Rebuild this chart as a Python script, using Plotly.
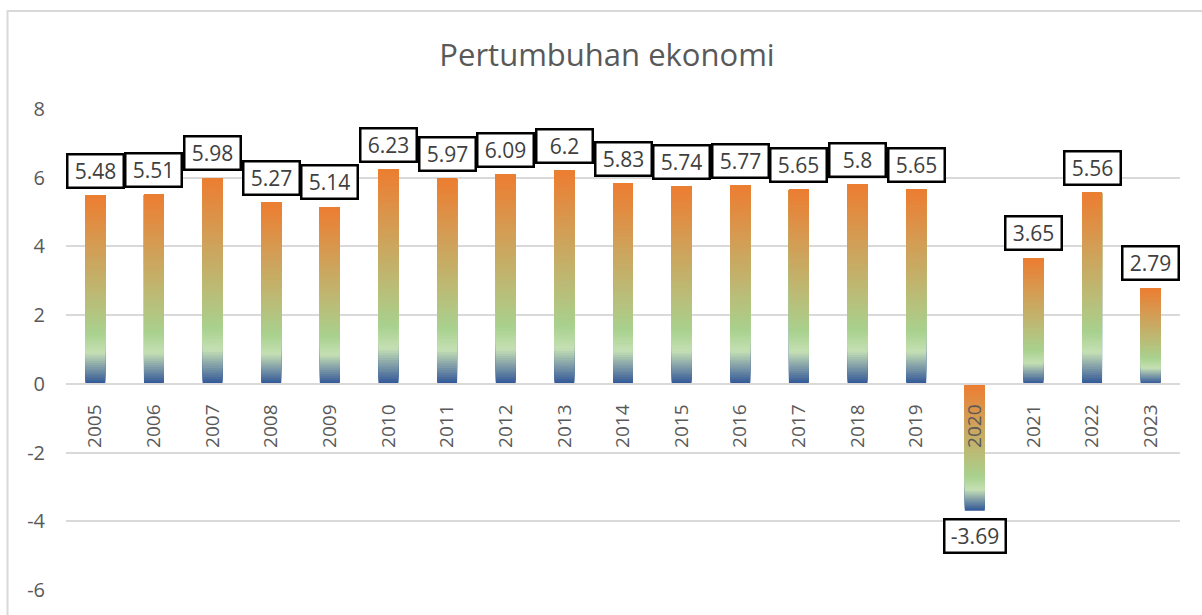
import plotly.graph_objects as go

years = [str(y) for y in range(2005, 2024)]
growth = [5.48, 5.51, 5.98, 5.27, 5.14, 6.23, 5.97, 6.09, 6.2, 5.83,
          5.74, 5.77, 5.65, 5.8, 5.65, -3.69, 3.65, 5.56, 2.79]
labels = ["5.48", "5.51", "5.98", "5.27", "5.14", "6.23", "5.97", "6.09", "6.2", "5.83",
          "5.74", "5.77", "5.65", "5.8", "5.65", "-3.69", "3.65", "5.56", "2.79"]
ytick_vals = [-6, -4, -2, 0, 2, 4, 6, 8]
ytick_text = ["-6", "-4", "-2", "0", "2", "4", "6", "8"]
title_text = "Pertumbuhan ekonomi"

# gradient stops (fraction from visual bottom of each bar -> colour)
stops = [(0.0, (47, 85, 151)), (0.10, (140, 168, 170)), (0.165, (197, 224, 180)),
         (0.27, (169, 209, 142)), (1.0, (237, 125, 49))]


def grad(f):
    for (f0, c0), (f1, c1) in zip(stops[:-1], stops[1:]):
        if f <= f1:
            t = (f - f0) / (f1 - f0) if f1 > f0 else 0
            c = [round(a + (b - a) * t) for a, b in zip(c0, c1)]
            return "rgb(%d,%d,%d)" % tuple(c)
    return "rgb(%d,%d,%d)" % stops[-1][1]


N = 90
fig = go.Figure()
bottoms = [min(0, v) for v in growth]
heights = [abs(v) for v in growth]
for k in range(N):
    fr = (k + 0.5) / N
    fig.add_trace(go.Bar(
        x=years,
        y=[h * (1 - k / N) for h in heights],
        base=[b + h * k / N for b, h in zip(bottoms, heights)],
        marker=dict(color=grad(fr), line=dict(width=0)),
        hoverinfo="skip",
        showlegend=False,
    ))

grid = "#d9d9d9"
txt = "#595959"
font_family = "Open Sans, Liberation Sans, sans-serif"

for i, (v, lab) in enumerate(zip(growth, labels)):
    fig.add_annotation(
        x=i, y=v, text=lab, showarrow=False,
        yanchor="bottom" if v >= 0 else "top",
        yshift=7 if v >= 0 else -7,
        width=55 if v < 0 else 50, height=27,
        borderpad=2, borderwidth=2.5, bordercolor="black", bgcolor="white",
        font=dict(family=font_family, size=21, color="#404040"),
    )

# chart border
fig.add_shape(type="rect", xref="paper", yref="paper",
              x0=-0.0525, x1=1.05, y0=-0.1, y1=1.204,
              line=dict(color=grid, width=2), fillcolor="rgba(0,0,0,0)", layer="below")

fig.update_layout(
    width=1202, height=615,
    margin=dict(l=66, r=22, t=109, b=21.5),
    paper_bgcolor="white", plot_bgcolor="white",
    barmode="overlay", bargap=0.66,
    title=dict(text=title_text, x=0.505, xanchor="center", y=0.91, yanchor="middle",
               font=dict(family=font_family, size=31, color=txt)),
    xaxis=dict(type="category", anchor="free", position=6 / 14, range=[-0.5, len(years) - 0.5],
               showgrid=False, showline=True, linecolor=grid, linewidth=2,
               tickangle=-90, ticks="", ticklabelstandoff=12,
               tickfont=dict(family=font_family, size=19, color=txt), fixedrange=True),
    yaxis=dict(range=[-6, 8], tickmode="array", tickvals=ytick_vals, ticktext=ytick_text,
               showgrid=True, gridcolor=grid, gridwidth=2,
               zeroline=False, showline=False, ticks="", ticklabelstandoff=20,
               tickfont=dict(family=font_family, size=20, color=txt), fixedrange=True),
)

fig.write_html("out.html", config={"displayModeBar": False},
               post_script="document.body.style.margin='0';")
